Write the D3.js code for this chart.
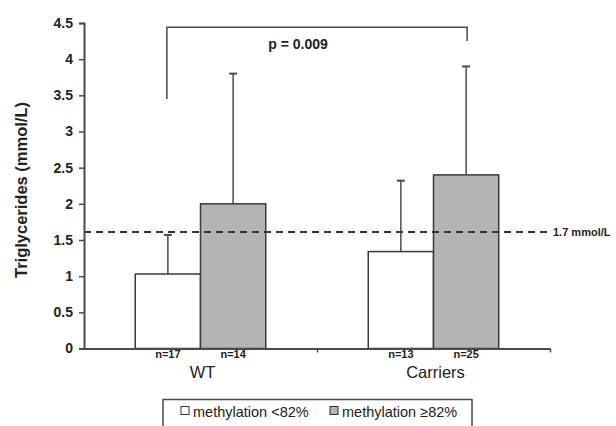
<!DOCTYPE html>
<html>
<head>
<meta charset="utf-8">
<script src="https://cdn.jsdelivr.net/npm/d3@7"></script>
<style>
  body { margin: 0; background: #fff; }
  svg { font-family: "Liberation Sans", Arial, sans-serif; }
</style>
</head>
<body>
<svg id="mainChart"></svg>
<script>
var MARGIN = { LEFT: 84, RIGHT: 66, TOP: 23, BOTTOM: 77.5 };
var width = 616 - MARGIN.LEFT - MARGIN.RIGHT,
    height = 426 - MARGIN.TOP - MARGIN.BOTTOM;

// data
var groups = ['WT', 'Carriers'];
var seriesNames = ['methylation <82%', 'methylation \u226582%'];
var meanLow = [1.03, 1.34];
var meanHigh = [2.0, 2.4];
var sdLow = [0.54, 0.98];
var sdHigh = [1.8, 1.5];
var nLow = ['n=17', 'n=13'];
var nHigh = ['n=14', 'n=25'];
var yTicks = [0, 0.5, 1, 1.5, 2, 2.5, 3, 3.5, 4, 4.5];
var threshold = 1.61;
var thresholdLabel = '1.7 mmol/L';
var pLabel = 'p = 0.009';
var colors = ['#ffffff', '#b4b4b4'];

var svg = d3.select('#mainChart')
    .attr('width', 616)
    .attr('height', 426);

var g = svg.append('g')
    .attr('transform', 'translate(' + MARGIN.LEFT + ',' + MARGIN.TOP + ')');

var xScale = d3.scaleBand()
    .domain(groups)
    .range([0, width])
    .paddingInner(0)
    .paddingOuter(0);
var xSub = d3.scaleBand()
    .domain([0, 1])
    .range([xScale.bandwidth() * 0.22, xScale.bandwidth() * 0.78]);
var yScale = d3.scaleLinear()
    .domain([0, 4.5])
    .range([height, 0]);

var rows = [];
groups.forEach(function (grp, i) {
    rows.push({ grp: grp, s: 0, mean: meanLow[i], sd: sdLow[i], n: nLow[i] });
    rows.push({ grp: grp, s: 1, mean: meanHigh[i], sd: sdHigh[i], n: nHigh[i] });
});
var cx = function (d) { return xScale(d.grp) + xSub(d.s) + xSub.bandwidth() / 2; };

// error bars (upper only)
var eb = g.append('g').attr('class', 'errors');
rows.forEach(function (d) {
    eb.append('line')
        .attr('x1', cx(d)).attr('x2', cx(d))
        .attr('y1', yScale(d.mean)).attr('y2', yScale(d.mean + d.sd))
        .style('stroke', '#4a4a4a').style('stroke-width', 1.5);
    eb.append('line')
        .attr('x1', cx(d) - 4).attr('x2', cx(d) + 4)
        .attr('y1', yScale(d.mean + d.sd)).attr('y2', yScale(d.mean + d.sd))
        .style('stroke', '#4a4a4a').style('stroke-width', 2);
});

g.append('g').attr('class', 'bars')
    .selectAll('rect')
    .data(rows)
    .enter()
    .append('rect')
    .attr('x', function (d) { return xScale(d.grp) + xSub(d.s); })
    .attr('y', function (d) { return yScale(d.mean); })
    .attr('width', xSub.bandwidth())
    .attr('height', function (d) { return height - yScale(d.mean); })
    .style('fill', function (d) { return colors[d.s]; })
    .style('stroke', '#3a3a3a')
    .style('stroke-width', 1.5);

// threshold line
g.append('line')
    .attr('x1', 0).attr('x2', width - 3)
    .attr('y1', yScale(threshold)).attr('y2', yScale(threshold))
    .style('stroke', '#333')
    .style('stroke-width', 2)
    .style('stroke-dasharray', '7,5');
g.append('text')
    .attr('x', width + 3)
    .attr('y', yScale(threshold) + 4)
    .style('font-size', '11px')
    .style('font-weight', 'bold')
    .style('fill', '#222')
    .text(thresholdLabel);

// y axis
var yAxis = d3.axisLeft(yScale)
    .tickValues(yTicks)
    .tickFormat(function (d) { return d; })
    .tickSize(5)
    .tickPadding(6);
var ya = g.append('g').attr('class', 'y axis').call(yAxis);
ya.select('.domain').style('stroke', '#4a4a4a').style('stroke-width', 2);
ya.selectAll('.tick line').style('stroke', '#4a4a4a').style('stroke-width', 1.5);
ya.selectAll('.tick text')
    .style('font-size', '14px')
    .style('font-weight', 'bold')
    .style('fill', '#222');

// x axis
var xAxis = d3.axisBottom(d3.scaleLinear().domain([0, 2]).range([0, width]))
    .tickValues([1, 2])
    .tickFormat('')
    .tickSize(4)
    .tickSizeOuter(0);
var xa = g.append('g').attr('class', 'x axis')
    .attr('transform', 'translate(0,' + height + ')')
    .call(xAxis);
xa.select('.domain').style('stroke', '#4a4a4a').style('stroke-width', 2);
xa.selectAll('.tick line').style('stroke', '#4a4a4a').style('stroke-width', 1.5);

// n labels
g.selectAll('.nlab')
    .data(rows)
    .enter()
    .append('text')
    .attr('class', 'nlab')
    .attr('x', cx)
    .attr('y', height + 9)
    .attr('text-anchor', 'middle')
    .style('font-size', '11px')
    .style('font-weight', 'bold')
    .style('fill', '#222')
    .text(function (d) { return d.n; });

// group labels
g.selectAll('.glab')
    .data(groups)
    .enter()
    .append('text')
    .attr('class', 'glab')
    .attr('x', function (d) { return xScale(d) + xScale.bandwidth() / 2 + 2; })
    .attr('y', height + 29)
    .attr('text-anchor', 'middle')
    .style('font-size', '16.5px')
    .style('fill', '#222')
    .text(function (d) { return d; });

// y label
svg.append('text')
    .attr('transform', 'translate(27,190) rotate(-90)')
    .attr('text-anchor', 'middle')
    .style('font-size', '16.5px')
    .style('font-weight', 'bold')
    .style('fill', '#222')
    .text('Triglycerides (mmol/L)');

// significance bracket
var bx1 = cx(rows[0]) - 1,
    bx2 = cx(rows[3]) + 1;
var by = yScale(4.44);
g.append('path')
    .attr('d', 'M' + bx1 + ',' + yScale(3.45) + 'V' + by + 'H' + bx2 + 'V' + yScale(4.25))
    .style('fill', 'none')
    .style('stroke', '#4a4a4a')
    .style('stroke-width', 1.5);
g.append('text')
    .attr('x', (bx1 + bx2) / 2 - 19)
    .attr('y', by + 22)
    .attr('text-anchor', 'middle')
    .style('font-size', '14px')
    .style('font-weight', 'bold')
    .style('fill', '#222')
    .text(pLabel);

// legend
var legend = svg.append('g').attr('class', 'legend');
legend.append('rect')
    .attr('x', 163).attr('y', 399.5)
    .attr('width', 309).attr('height', 40)
    .style('fill', '#fff')
    .style('stroke', '#4a4a4a')
    .style('stroke-width', 1.5);
var legX = [181, 330];
seriesNames.forEach(function (name, i) {
    legend.append('rect')
        .attr('x', legX[i]).attr('y', 406.5)
        .attr('width', 8).attr('height', 8)
        .style('fill', colors[i])
        .style('stroke', '#333')
        .style('stroke-width', 1);
    legend.append('text')
        .attr('x', legX[i] + 12)
        .attr('y', 417)
        .style('font-size', '14.5px')
        .style('fill', '#222')
        .text(name);
});
</script>
</body>
</html>
